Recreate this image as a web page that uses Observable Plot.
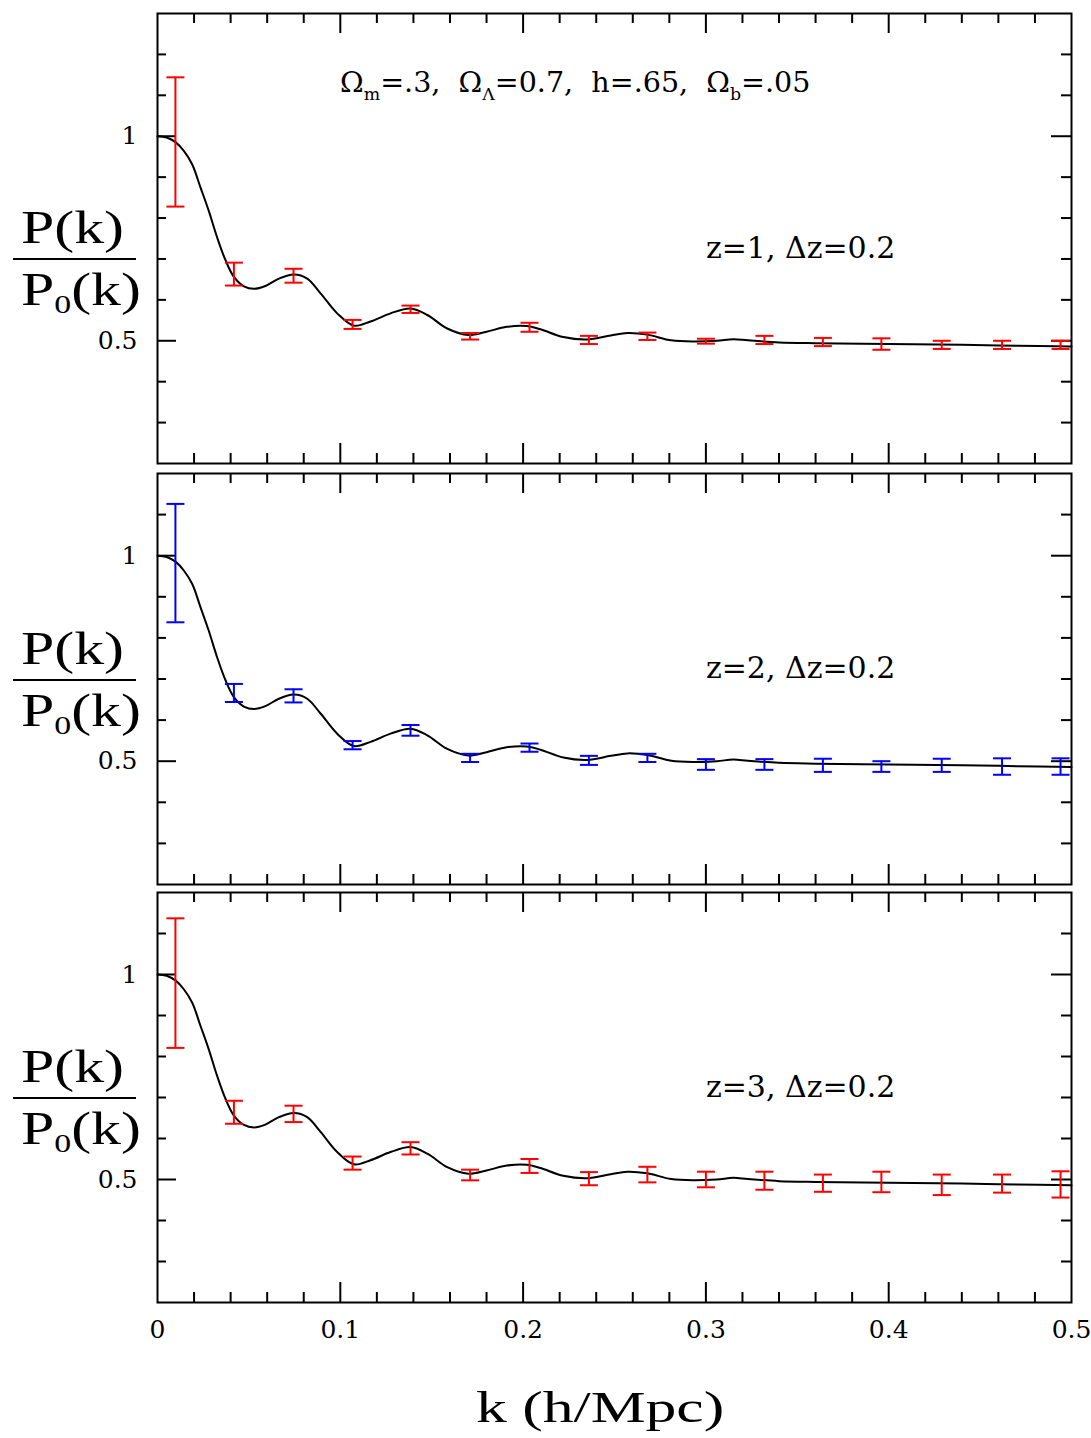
<!DOCTYPE html>
<html><head><meta charset="utf-8">
<script src="https://cdn.jsdelivr.net/npm/d3@7"></script>
<script src="https://cdn.jsdelivr.net/npm/@observablehq/plot@0.6"></script>
<style>
body{margin:0;background:#fff;}
#wrap{position:relative;width:1091px;height:1438px;overflow:hidden;background:#fff;}
.panel{position:absolute;left:0;}
.frac{position:absolute;left:13px;width:124px;font-family:"Liberation Serif",serif;font-size:46px;color:#000;}
.frac .num,.frac .den{position:absolute;left:0;white-space:nowrap;transform-origin:left top;transform:scaleX(1.3);line-height:1;}
.frac .bar{position:absolute;left:0;width:123px;height:2px;background:#000;}
.frac sub{font-size:26px;vertical-align:-8px;}
.note{position:absolute;font-family:"DejaVu Serif",serif;font-size:28px;white-space:nowrap;color:#000;transform-origin:left top;transform:scaleX(1.02);}
.note sub{font-size:17px;vertical-align:-8px;}
.xlab{position:absolute;font-family:"Liberation Serif",serif;font-size:45px;white-space:nowrap;transform-origin:left top;transform:scaleX(1.37);}
</style></head><body><div id="wrap"></div>
<script>
// ---- data ----
const kBins = [0.0098,0.0418,0.0744,0.1067,0.1384,0.1710,0.2035,0.2360,0.2680,0.3000,0.3320,0.3640,0.3960,0.4290,0.4620,0.4940];
const z1Mid = [0.986,0.663,0.659,0.540,0.577,0.511,0.533,0.502,0.511,0.499,0.502,0.497,0.492,0.490,0.490,0.490];
const z1Err = [0.158,0.028,0.017,0.011,0.009,0.008,0.011,0.010,0.009,0.006,0.010,0.010,0.014,0.010,0.010,0.010];
const z2Mid = [0.982,0.666,0.659,0.539,0.575,0.508,0.533,0.502,0.508,0.492,0.492,0.490,0.487,0.490,0.487,0.487];
const z2Err = [0.144,0.022,0.016,0.010,0.013,0.010,0.010,0.011,0.010,0.013,0.013,0.016,0.013,0.016,0.020,0.020];
const z3Mid = [0.979,0.664,0.660,0.540,0.576,0.511,0.533,0.502,0.512,0.500,0.497,0.491,0.494,0.487,0.490,0.488];
const z3Err = [0.158,0.028,0.020,0.016,0.015,0.013,0.017,0.016,0.019,0.019,0.022,0.021,0.025,0.025,0.022,0.032];
const curveK = [0,0.005,0.010,0.0144,0.019,0.0235,0.028,0.0326,0.0372,0.0418,0.0473,0.0527,0.059,0.0664,0.0746,0.0819,0.0892,0.0983,0.1074,0.1165,0.1275,0.1384,0.1476,0.1585,0.170,0.180,0.191,0.202,0.2095,0.222,0.235,0.248,0.257,0.268,0.281,0.293,0.306,0.315,0.323,0.340,0.360,0.400,0.440,0.470,0.500];
const curveV = [1.000,0.997,0.985,0.964,0.931,0.875,0.818,0.753,0.697,0.656,0.633,0.627,0.634,0.652,0.662,0.652,0.616,0.567,0.537,0.547,0.567,0.579,0.563,0.530,0.514,0.522,0.534,0.536,0.528,0.509,0.503,0.513,0.519,0.515,0.501,0.498,0.500,0.504,0.501,0.496,0.494,0.492,0.490,0.488,0.486];
const zLabels = ["z=1, \u0394z=0.2","z=2, \u0394z=0.2","z=3, \u0394z=0.2"];
const xTickLabels = [0,0.1,0.2,0.3,0.4,0.5];
const xMajor = [0.1,0.2,0.3,0.4];
const xMinor = d3.range(1,25).map(i=>i*0.02).filter(v=>Math.abs(v*10-Math.round(v*10))>1e-6);
const yTickLabels = [0.5,1];
const yMinorAll = [0.3,0.4,0.6,0.7,0.8,0.9,1.1,1.2];

// ---- layout ----
const W = 1091, ML = 157, MR = 20;
const FW = W - ML - MR;
const panels = [
  {top:9, mt:4, fh:450, mb:4, dom:[0.2,1.3], mid:z1Mid, err:z1Err, color:"#ff0000", label:zLabels[0], xaxis:false, fracTop:135},
  {top:469, mt:4, fh:411, mb:4, dom:[0.2,1.2], mid:z2Mid, err:z2Err, color:"#0000ff", label:zLabels[1], xaxis:false, fracTop:556},
  {top:888, mt:4, fh:410, mb:60, dom:[0.2,1.2], mid:z3Mid, err:z3Err, color:"#ff0000", label:zLabels[2], xaxis:true, fracTop:974}
];
const curve = curveK.map((k,i)=>({k, v:curveV[i]}));
const capSymbol = {draw(ctx, size){const w=Math.sqrt(size/Math.PI); ctx.moveTo(-w,0); ctx.lineTo(w,0);}};
const wrap = document.getElementById("wrap");

panels.forEach(p => {
  const bars = kBins.map((k,i)=>({k, lo:p.mid[i]-p.err[i], hi:p.mid[i]+p.err[i]}));
  const yMinor = yMinorAll.filter(v => v < p.dom[1]-1e-9);
  const fh = p.fh;
  const marks = [
    Plot.frame({stroke:"#000", strokeWidth:2}),
    Plot.tickX(xMinor, {x:d=>d, insetTop:fh-10, stroke:"#000", strokeWidth:2}),
    Plot.tickX(xMajor, {x:d=>d, insetTop:fh-20, stroke:"#000", strokeWidth:2}),
    Plot.tickX(xMinor, {x:d=>d, insetBottom:fh-10, stroke:"#000", strokeWidth:2}),
    Plot.tickX(xMajor, {x:d=>d, insetBottom:fh-20, stroke:"#000", strokeWidth:2}),
    Plot.tickY(yMinor, {y:d=>d, insetRight:FW-9, stroke:"#000", strokeWidth:2}),
    Plot.tickY(yTickLabels, {y:d=>d, insetRight:FW-19, stroke:"#000", strokeWidth:2}),
    Plot.tickY(yMinor, {y:d=>d, insetLeft:FW-10, stroke:"#000", strokeWidth:2}),
    Plot.tickY(yTickLabels, {y:d=>d, insetLeft:FW-20, stroke:"#000", strokeWidth:2}),
    Plot.axisY({ticks:yTickLabels, tickSize:0, tickPadding:20, tickFormat:d=>String(d), fontSize:25, fontFamily:"DejaVu Serif"}),
    Plot.line(curve, {x:"k", y:"v", curve:"catmull-rom", stroke:"#000", strokeWidth:2}),
    Plot.ruleX(bars, {x:"k", y1:"lo", y2:"hi", stroke:p.color, strokeWidth:2}),
    Plot.dot(bars, {x:"k", y:"lo", symbol:capSymbol, r:9, stroke:p.color, fill:"none", strokeWidth:2}),
    Plot.dot(bars, {x:"k", y:"hi", symbol:capSymbol, r:9, stroke:p.color, fill:"none", strokeWidth:2}),
    Plot.text([p.label], {x:()=>0.3, y:()=>0.725, text:d=>d, textAnchor:"start", fontSize:30, fontFamily:"DejaVu Serif", fill:"#000"})
  ];
  if (p.xaxis) marks.push(Plot.axisX({ticks:xTickLabels, tickSize:0, tickPadding:18, tickFormat:d=>String(d), fontSize:25, fontFamily:"DejaVu Serif"}));
  else marks.push(Plot.axisX({ticks:[], tickSize:0, label:null}));
  const chart = Plot.plot({
    width:W, height:p.mt+fh+p.mb,
    marginLeft:ML, marginRight:MR, marginTop:p.mt, marginBottom:p.mb,
    x:{domain:[0,0.5], label:null},
    y:{domain:p.dom, label:null},
    style:{background:"transparent", color:"#000", overflow:"visible"},
    marks
  });
  chart.classList.add("panel");
  chart.style.top = p.top + "px";
  wrap.appendChild(chart);

  const f = document.createElement("div");
  f.className = "frac";
  f.style.top = (p.fracTop + 124 - 58) + "px";
  f.innerHTML = '<div class="num" style="top:4px;left:8px">P(k)</div><div class="bar" style="top:57px"></div><div class="den" style="top:66px;left:8px">P<sub>0</sub>(k)</div>';
  wrap.appendChild(f);
});

const note = document.createElement("div");
note.className = "note";
note.style.left = "340px"; note.style.top = "66px";
note.innerHTML = '\u03A9<sub>m</sub>=.3,&nbsp; \u03A9<sub>\u039B</sub>=0.7,&nbsp; h=.65,&nbsp; \u03A9<sub>b</sub>=.05';
wrap.appendChild(note);

const xl = document.createElement("div");
xl.className = "xlab";
xl.style.left = "476px"; xl.style.top = "1381px";
xl.textContent = "k (h/Mpc)";
wrap.appendChild(xl);
</script></body></html>
